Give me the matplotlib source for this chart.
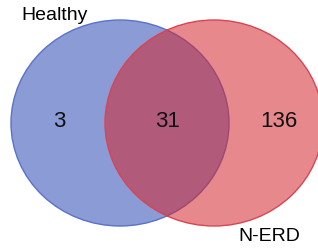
import matplotlib.pyplot as plt
from matplotlib.patches import Ellipse

# Venn counts: only Healthy, shared, only N-ERD
set_names = ["Healthy", "N-ERD"]
region_counts = [3, 31, 136]

plt.rcParams['font.family'] = ['Liberation Sans', 'DejaVu Sans']

fig = plt.figure(figsize=(3.18, 2.49), dpi=100)
ax = fig.add_axes([0, 0, 1, 1])
ax.set_xlim(0, 318)
ax.set_ylim(249, 0)
ax.axis('off')

# circles (pixel layout)
blue = (120, 123)
red = (214, 123)
w, h = 218, 206

ax.add_patch(Ellipse(blue, w, h, facecolor='#8a9bd6', edgecolor='none'))
ax.add_patch(Ellipse(blue, w, h, facecolor='none', edgecolor='#5a72c8', lw=1.0))
ax.add_patch(Ellipse(red, w, h, facecolor=(0.83, 0.15, 0.18, 0.55), edgecolor='none'))
ax.add_patch(Ellipse(red, w, h, facecolor='none', edgecolor='#d84552', lw=1.0))

# region counts
for x, n in zip([59, 168, 279], region_counts):
    ax.text(x, 121, str(n), ha='center', va='center', fontsize=16, color='#111111')

# set labels
ax.text(55, 15, set_names[0], ha='center', va='center', fontsize=14)
ax.text(269, 236, set_names[1], ha='center', va='center', fontsize=14)

plt.savefig('out.png', dpi=100)
